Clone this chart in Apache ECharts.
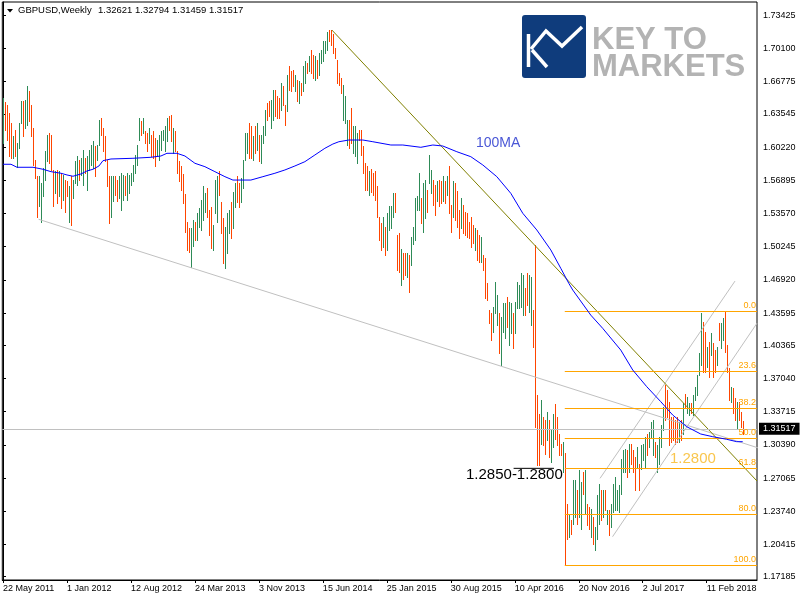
<!DOCTYPE html>
<html>
<head>
<meta charset="utf-8">
<script src="https://cdn.jsdelivr.net/npm/echarts@6/dist/echarts.min.js"></script>
<style>
  html, body { margin: 0; padding: 0; background: #fff; }
  #main { width: 800px; height: 600px; }
</style>
</head>
<body>
<div id="main"></div>
<script>
// weekly bars, index 0 = week of 22 May 2011
var barHigh = [
  1.651,1.647,1.644,1.636,1.626,1.613,1.619,1.606,1.626,1.648,
  1.648,1.649,1.663,1.658,1.644,1.621,1.589,1.573,1.573,1.566,
  1.581,1.598,1.614,1.616,1.614,1.579,1.578,1.579,1.578,1.576,
  1.574,1.569,1.568,1.563,1.573,1.569,1.588,1.593,1.589,1.591,
  1.599,1.591,1.593,1.599,1.604,1.608,1.603,1.604,1.629,1.631,
  1.621,1.613,1.589,1.573,1.573,1.573,1.573,1.569,1.573,1.576,
  1.574,1.573,1.576,1.574,1.576,1.584,1.594,1.604,1.631,1.628,
  1.631,1.618,1.616,1.621,1.614,1.618,1.611,1.609,1.614,1.618,
  1.619,1.623,1.631,1.633,1.634,1.621,1.618,1.598,1.588,1.583,
  1.575,1.555,1.527,1.521,1.521,1.529,1.527,1.536,1.541,1.549,
  1.563,1.556,1.561,1.539,1.542,1.524,1.569,1.573,1.578,1.547,
  1.531,1.522,1.536,1.539,1.547,1.557,1.566,1.573,1.566,1.571,
  1.589,1.616,1.616,1.626,1.623,1.613,1.623,1.626,1.614,1.614,
  1.623,1.639,1.646,1.648,1.649,1.659,1.659,1.653,1.651,1.666,
  1.663,1.644,1.674,1.683,1.678,1.679,1.674,1.669,1.668,1.666,
  1.683,1.688,1.686,1.693,1.699,1.694,1.693,1.689,1.696,1.699,
  1.708,1.708,1.718,1.7195,1.7195,1.716,1.701,1.689,1.676,1.671,
  1.664,1.653,1.629,1.629,1.641,1.623,1.623,1.616,1.619,1.619,
  1.603,1.586,1.583,1.578,1.580,1.576,1.578,1.563,1.532,1.526,
  1.532,1.522,1.536,1.543,1.543,1.556,1.556,1.514,1.516,1.500,
  1.496,1.496,1.496,1.494,1.512,1.522,1.551,1.553,1.576,1.551,
  1.566,1.569,1.559,1.594,1.579,1.569,1.564,1.568,1.569,1.568,
  1.573,1.568,1.573,1.583,1.544,1.568,1.566,1.558,1.539,1.551,
  1.544,1.537,1.536,1.527,1.532,1.524,1.521,1.519,1.514,1.512,
  1.494,1.491,1.466,1.439,1.436,1.442,1.467,1.454,1.436,1.432,
  1.446,1.446,1.452,1.447,1.446,1.436,1.447,1.467,1.464,1.476,
  1.474,1.461,1.476,1.474,1.472,1.439,1.504,1.354,1.335,1.349,
  1.332,1.329,1.337,1.329,1.319,1.335,1.345,1.332,1.315,1.305,
  1.307,1.296,1.245,1.235,1.229,1.269,1.269,1.259,1.279,1.267,
  1.277,1.279,1.245,1.242,1.240,1.232,1.222,1.254,1.265,1.259,
  1.259,1.259,1.239,1.239,1.245,1.265,1.272,1.259,1.264,1.290,
  1.299,1.300,1.299,1.305,1.305,1.299,1.292,1.302,1.285,1.304,
  1.305,1.312,1.315,1.317,1.327,1.329,1.307,1.304,1.312,1.324,
  1.342,1.364,1.359,1.347,1.332,1.332,1.329,1.332,1.327,1.329,
  1.346,1.355,1.352,1.346,1.346,1.354,1.362,1.374,1.396,1.436,
  1.427,1.417,1.402,1.407,1.416,1.406,1.399,1.402,1.426,1.426,
  1.431,1.4377,1.404,1.381,1.362,1.361,1.351,1.347,1.347,1.337,
  1.32794
];
var barLow = [
  1.606,1.619,1.609,1.593,1.591,1.591,1.593,1.582,1.601,1.626,
  1.613,1.621,1.624,1.628,1.613,1.584,1.571,1.532,1.543,1.527,
  1.553,1.569,1.588,1.586,1.579,1.543,1.556,1.546,1.553,1.541,
  1.549,1.537,1.553,1.527,1.524,1.551,1.566,1.564,1.569,1.574,
  1.564,1.576,1.559,1.579,1.584,1.581,1.573,1.589,1.604,1.614,
  1.598,1.588,1.563,1.526,1.532,1.548,1.554,1.548,1.551,1.539,
  1.549,1.554,1.549,1.556,1.564,1.568,1.576,1.584,1.609,1.614,
  1.616,1.606,1.598,1.606,1.593,1.591,1.583,1.593,1.589,1.599,
  1.609,1.598,1.608,1.619,1.608,1.596,1.598,1.576,1.568,1.559,
  1.546,1.517,1.499,1.497,1.482,1.503,1.509,1.509,1.522,1.519,
  1.529,1.537,1.532,1.514,1.501,1.499,1.536,1.527,1.554,1.516,
  1.486,1.481,1.496,1.516,1.511,1.521,1.542,1.547,1.542,1.547,
  1.561,1.589,1.596,1.591,1.591,1.589,1.596,1.599,1.588,1.586,
  1.606,1.614,1.629,1.633,1.621,1.629,1.633,1.631,1.631,1.639,
  1.644,1.624,1.638,1.659,1.658,1.663,1.658,1.648,1.646,1.654,
  1.658,1.666,1.676,1.678,1.676,1.671,1.669,1.671,1.674,1.686,
  1.688,1.696,1.699,1.708,1.704,1.696,1.691,1.666,1.664,1.656,
  1.629,1.626,1.604,1.601,1.606,1.596,1.593,1.586,1.609,1.594,
  1.576,1.559,1.559,1.554,1.557,1.554,1.549,1.532,1.509,1.499,
  1.502,1.494,1.499,1.519,1.521,1.532,1.537,1.479,1.477,1.464,
  1.470,1.474,1.472,1.457,1.484,1.505,1.509,1.539,1.539,1.526,
  1.517,1.531,1.537,1.566,1.556,1.544,1.534,1.548,1.543,1.546,
  1.548,1.546,1.554,1.536,1.517,1.532,1.529,1.522,1.511,1.521,
  1.516,1.514,1.512,1.511,1.502,1.506,1.499,1.489,1.487,1.487,
  1.479,1.451,1.449,1.426,1.409,1.417,1.436,1.424,1.396,1.384,
  1.417,1.411,1.422,1.404,1.416,1.401,1.416,1.441,1.441,1.442,
  1.434,1.434,1.444,1.437,1.424,1.402,1.322,1.284,1.284,1.305,
  1.304,1.295,1.309,1.292,1.287,1.302,1.310,1.304,1.294,1.294,
  1.277,1.184,1.210,1.212,1.215,1.225,1.232,1.225,1.232,1.220,
  1.255,1.235,1.224,1.220,1.212,1.205,1.199,1.210,1.225,1.229,
  1.232,1.239,1.225,1.214,1.222,1.237,1.239,1.239,1.237,1.255,
  1.277,1.277,1.272,1.277,1.285,1.277,1.259,1.282,1.259,1.280,
  1.289,1.282,1.294,1.302,1.312,1.294,1.292,1.277,1.285,1.302,
  1.319,1.329,1.332,1.304,1.307,1.309,1.305,1.307,1.307,1.309,
  1.315,1.342,1.336,1.334,1.336,1.334,1.349,1.354,1.374,1.384,
  1.377,1.377,1.382,1.372,1.394,1.372,1.377,1.384,1.409,1.401,
  1.409,1.397,1.377,1.349,1.347,1.336,1.329,1.320,1.329,1.322,
  1.31459
];
// 1 = up week (green), 0 = down week (red)
var barUp = [
  1,0,0,0,0,1,0,1,1,1, 0,1,1,0,0,0,0,0,1,1, 1,1,1,0,0,0,1,0,1,0,
  1,0,0,1,0,1,1,1,0,1, 1,0,1,1,1,1,0,1,1,0, 0,0,0,0,1,1,0,0,1,1,
  1,0,1,1,1,1,1,1,1,0, 1,0,0,1,0,0,0,1,1,1, 1,1,1,0,0,1,0,0,0,0,
  0,0,0,0,1,1,0,1,1,1, 1,1,0,0,0,1,1,1,0,0, 0,1,1,1,0,1,1,0,0,1,
  1,1,1,0,0,1,0,1,0,1, 1,1,0,0,1,1,0,0,0,1, 0,0,1,0,0,0,1,0,1,0,
  1,1,0,1,0,0,1,0,1,1, 1,1,1,0,0,0,0,0,0,0, 1,1,1,0,0,1,1,1,0,0,
  0,0,0,1,0,0,0,0,0,0, 1,0,1,1,1,1,0,0,0,1, 0,0,1,0,1,1,1,1,1,0,
  1,1,0,1,1,0,0,1,0,0, 1,0,1,0,0,1,0,0,0,1, 0,0,0,0,0,0,1,0,0,1,
  0,0,0,0,0,1,1,1,0,1, 1,1,0,1,1,0,1,1,1,1, 1,0,0,1,1,0,0,0,0,1,
  0,0,1,0,1,1,0,0,0,0, 1,0,0,1,0,1,1,0,1,1, 0,1,0,0,1,0,1,1,1,0,
  1,0,1,0,1,1,1,1,1,1, 1,1,0,1,0,0,0,1,0,1, 1,1,0,1,1,1,0,1,1,1,
  1,0,0,0,0,0,0,0,1,0, 1,0,1,1,0,1,1,1,1,1, 0,0,1,0,1,0,0,1,0,1,
  1,0,0,0,1,0,0,1,0,0, 0
];

// 100 week moving average (bar index, price)
var maIdx = [0,4,7,15,20,24,29,32,35,39,42,45,48,50,54,65,74,79,82,87,91,96,101,106,111,115,124,130,136,141,146,151,156,161,165,168,173,180,185,194,200,209,215,220,227,234,240,247,254,260,267,274,279,283,285,294,300,309,315,322,329,335,342,349,355,362,367,370];
var maVal = [1.5850,1.5850,1.5820,1.5820,1.5800,1.5776,1.5760,1.5743,1.5730,1.5753,1.5783,1.5800,1.5833,1.5886,1.5903,1.5910,1.5920,1.5933,1.5960,1.5960,1.5933,1.5860,1.5826,1.5776,1.5726,1.5692,1.5692,1.5726,1.5760,1.5793,1.5833,1.5876,1.5943,1.6010,1.6053,1.6076,1.6093,1.6093,1.6076,1.6043,1.6043,1.6020,1.6043,1.6033,1.5976,1.5926,1.5843,1.5726,1.5559,1.5359,1.5192,1.4992,1.4808,1.4658,1.4590,1.4339,1.4206,1.3989,1.3789,1.3622,1.3472,1.3338,1.3221,1.3148,1.3121,1.3095,1.3071,1.3071];

// drawn objects: [startIdx, startPrice, endIdx, endPrice]
var longTrend = [17.8, 1.5299, 393.6, 1.2908];
var oliveTrend = [164.5, 1.7195, 377.15, 1.2677];
var channelUp = [298.65, 1.2704, 366.15, 1.4680];
var channelDn = [304.9, 1.2119, 377.15, 1.4258];
var supportLine = [255.4, 1.2804, 275.6, 1.2804];

var fibNames = ['0.0', '23.6', '38.2', '50.0', '61.8', '80.0', '100.0'];
var fibPrices = [1.4377, 1.3776, 1.3405, 1.3108, 1.2804, 1.2344, 1.1836];
var fibStart = 281;

var lastPrice = 1.31517;
var headerValues = ['1.32621', '1.32794', '1.31459', '1.31517'];

var dateIdx = [0, 32, 64, 96, 128, 160, 192, 224, 256, 288, 320, 352];
var dateLabels = ['22 May 2011', '1 Jan 2012', '12 Aug 2012', '24 Mar 2013', '3 Nov 2013', '15 Jun 2014',
  '25 Jan 2015', '30 Aug 2015', '10 Apr 2016', '20 Nov 2016', '2 Jul 2017', '11 Feb 2018'];
var priceTicks = [1.17185, 1.20415, 1.23740, 1.27065, 1.30390, 1.33715, 1.37040, 1.40365, 1.43595,
  1.46920, 1.50245, 1.53570, 1.56895, 1.60220, 1.63545, 1.66775, 1.70100, 1.73425];

var upColor = '#2e8b57';
var downColor = '#ff4500';
var fibColor = '#ffa500';
var font = 'Liberation Sans, Arial, sans-serif';

var bars = barHigh.map(function (h, i) { return [i, h, barLow[i], barUp[i]]; });
var maData = maIdx.map(function (k, i) { return [k, maVal[i]]; });

function seg(s) { return [[s[0], s[1]], [s[2], s[3]]]; }

function lineSeries(s, color, z, clip) {
  return {
    type: 'line', data: seg(s), showSymbol: false, silent: true, clip: clip,
    lineStyle: { color: color, width: 1 }, z: z, animation: false
  };
}

var myChart = echarts.init(document.getElementById('main'));

myChart.setOption({
  backgroundColor: '#fff',
  animation: false,
  grid: {
    left: 2, top: 2, width: 755, height: 578,
    show: true, borderColor: '#000', borderWidth: 1, backgroundColor: '#fff'
  },
  xAxis: {
    type: 'value', min: -0.35, max: 377.15,
    axisLine: { show: true, lineStyle: { color: '#000' } },
    axisTick: { show: true, customValues: dateIdx, length: 3, lineStyle: { color: '#000' } },
    axisLabel: {
      customValues: dateIdx, align: 'left', margin: 4,
      color: '#000', fontSize: 9, fontFamily: font,
      formatter: function (v) { return dateLabels[dateIdx.indexOf(v)]; }
    },
    splitLine: { show: false }
  },
  yAxis: {
    type: 'value', position: 'right', min: 1.16854, max: 1.74757,
    axisLine: { show: true, lineStyle: { color: '#000' } },
    axisTick: { show: true, customValues: priceTicks, length: 3, lineStyle: { color: '#000' } },
    axisLabel: {
      customValues: priceTicks, margin: 6, color: '#000', fontSize: 9, fontFamily: font,
      formatter: function (v) { return v.toFixed(5); }
    },
    splitLine: { show: false }
  },
  series: [
    {
      type: 'custom',
      data: bars,
      encode: { x: 0, y: [1, 2] },
      silent: true,
      z: 2,
      renderItem: function (params, api) {
        var top = api.coord([api.value(0), api.value(1)]);
        var bot = api.coord([api.value(0), api.value(2)]);
        var x = Math.round(top[0]) + 0.5;
        return {
          type: 'line',
          shape: { x1: x, y1: Math.round(top[1]), x2: x, y2: Math.round(bot[1]) + 1 },
          style: { stroke: api.value(3) ? upColor : downColor, lineWidth: 1 }
        };
      }
    },
    {
      // fibonacci levels
      type: 'line', data: [], silent: true, z: 3,
      markLine: {
        silent: true, symbol: 'none', animation: false,
        lineStyle: { color: fibColor, width: 1, type: 'solid' },
        label: {
          show: true, position: 'insideEndTop', distance: [1, 1],
          color: fibColor, fontSize: 9, fontFamily: font,
          formatter: function (p) { return fibNames[p.dataIndex]; }
        },
        data: fibPrices.map(function (p) {
          return [{ coord: [fibStart, p] }, { coord: [377.15, p] }];
        })
      }
    },
    {
      // current price line
      type: 'line', data: [], silent: true, z: 3,
      markLine: {
        silent: true, symbol: 'none', animation: false,
        lineStyle: { color: '#c0c0c0', width: 1, type: 'solid' },
        label: {
          show: true, position: 'end', distance: 2,
          backgroundColor: '#000', color: '#fff', padding: [2, 4, 1, 4],
          fontSize: 9, fontFamily: font,
          formatter: function () { return lastPrice.toFixed(5); }
        },
        data: [{ yAxis: lastPrice }]
      }
    },
    lineSeries(longTrend, '#c0c0c0', 4, false),
    lineSeries(channelUp, '#c0c0c0', 4, true),
    lineSeries(channelDn, '#c0c0c0', 4, true),
    lineSeries(oliveTrend, '#808000', 4, true),
    lineSeries(supportLine, '#000', 4, true),
    {
      type: 'line', data: maData, showSymbol: false, silent: true, z: 5,
      lineStyle: { color: '#0000ff', width: 1 }
    }
  ],
  graphic: [
    { type: 'polygon', shape: { points: [[7, 9], [13, 9], [10, 12.5]] }, style: { fill: '#000' }, z: 10 },
    { type: 'text', left: 18, top: 5, z: 10,
      style: { text: 'GBPUSD,Weekly', fill: '#000', font: '9.5px ' + font } },
    { type: 'text', left: 98, top: 5, z: 10,
      style: { text: headerValues.join(' '), fill: '#000', font: '9.5px ' + font } },
    // logo
    { type: 'rect', shape: { x: 522, y: 15, width: 64, height: 63, r: 3 }, style: { fill: '#0f3c7c' }, z: 10 },
    { type: 'polyline', shape: { points: [[528.5, 34], [528.5, 67]] },
      style: { stroke: '#fff', lineWidth: 3.5, fill: null }, z: 11 },
    { type: 'polyline', shape: { points: [[531, 49], [546, 31], [562, 46], [582, 27]] },
      style: { stroke: '#fff', lineWidth: 3.5, fill: null }, z: 11 },
    { type: 'polyline', shape: { points: [[532, 50], [547, 67]] },
      style: { stroke: '#fff', lineWidth: 3.5, fill: null }, z: 11 },
    { type: 'text', left: 592, top: 25, z: 10,
      style: { text: 'KEY TO', fill: '#b3b3b3', font: 'bold 31px ' + font } },
    { type: 'text', left: 592, top: 52, z: 10,
      style: { text: 'MARKETS', fill: '#b3b3b3', font: 'bold 31px ' + font } },
    // annotations
    { type: 'text', left: 476, top: 136, z: 10,
      style: { text: '100MA', fill: '#4a57d6', font: '14px ' + font } },
    { type: 'text', left: 466, top: 467, z: 10,
      style: { text: '1.2850-1.2800', fill: '#000', font: '15px ' + font } },
    { type: 'text', left: 670, top: 451, z: 10,
      style: { text: '1.2800', fill: '#f9c64e', font: '15px ' + font } }
  ]
});
</script>
</body>
</html>
